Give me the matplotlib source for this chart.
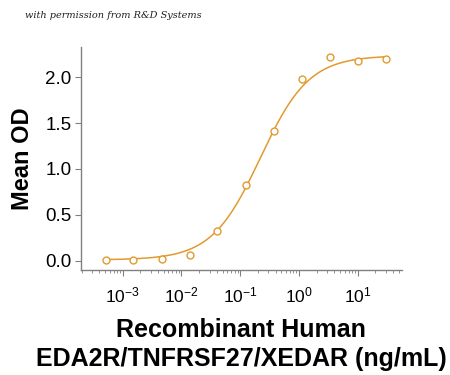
import numpy as np
import matplotlib.pyplot as plt
from matplotlib.ticker import LogLocator, FixedLocator, FuncFormatter

# data (3-fold dilution series)
conc = [0.00051, 0.00152, 0.00457, 0.0137, 0.041, 0.123, 0.37, 1.11, 3.33, 10.0, 30.0]
od = [0.007, 0.01, 0.02, 0.06, 0.32, 0.83, 1.41, 1.98, 2.22, 2.18, 2.20]

# 4PL fit parameters (bottom, top, EC50, hill)
fit_bottom, fit_top, fit_ec50, fit_hill = 0.01, 2.235, 0.22, 1.05

orange = '#E29A2E'
plt.rcParams['font.family'] = ['Liberation Sans', 'DejaVu Sans']
plt.rcParams['mathtext.fontset'] = 'custom'
plt.rcParams['mathtext.rm'] = 'Liberation Sans'

fig = plt.figure(figsize=(4.5, 3.75), dpi=100)
ax = fig.add_axes([0.18, 0.28, 0.713, 0.595])

xs = np.logspace(np.log10(conc[0]), np.log10(conc[-1]), 300)
ys = fit_bottom + (fit_top - fit_bottom) / (1 + (fit_ec50 / xs) ** fit_hill)
ax.plot(xs, ys, color=orange, lw=1.1)
ax.plot(conc, od, 'o', ms=5, mfc='white', mec=orange, mew=1.0)

ax.set_xscale('log')
ax.set_xlim(10 ** -3.71, 10 ** 1.75)
ax.set_ylim(-0.1, 2.33)
ax.set_yticks([0.0, 0.5, 1.0, 1.5, 2.0])
ax.yaxis.set_major_formatter(FuncFormatter(lambda v, p: f'{v:.1f}'))
ax.xaxis.set_major_locator(FixedLocator([1e-3, 1e-2, 1e-1, 1e0, 1e1]))
ax.xaxis.set_minor_locator(LogLocator(base=10, subs=np.arange(2, 10), numticks=20))
ax.xaxis.set_major_formatter(FuncFormatter(lambda v, p: r'$\mathregular{10^{%d}}$' % round(np.log10(v))))

for s in ['top', 'right']:
    ax.spines[s].set_visible(False)
for s in ['left', 'bottom']:
    ax.spines[s].set_color('#808080')
    ax.spines[s].set_linewidth(1.0)

ax.tick_params(axis='both', which='both', direction='out', color='#808080')
ax.tick_params(axis='y', length=4, labelsize=13.5, pad=3)
ax.tick_params(axis='x', which='major', length=4, labelsize=12.5, pad=7)
ax.tick_params(axis='x', which='minor', length=2.5)

ax.set_ylabel('Mean OD', fontsize=17, fontweight='bold', labelpad=8)
ax.set_xlabel('Recombinant Human\nEDA2R/TNFRSF27/XEDAR (ng/mL)', fontsize=18,
              fontweight='bold', labelpad=9, linespacing=1.3)

fig.text(0.055, 0.952, 'with permission from R&D Systems', fontsize=7,
         style='italic', family='DejaVu Serif', color='#202020')

fig.savefig('out.png', dpi=100)
